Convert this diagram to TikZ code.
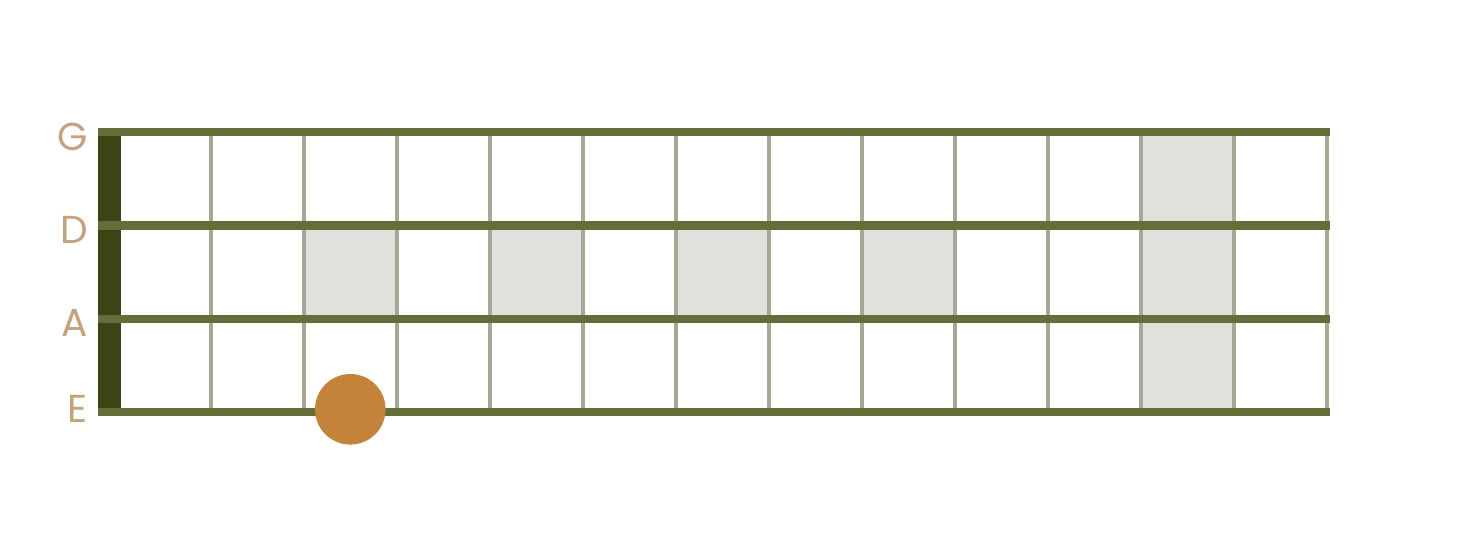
\documentclass[tikz,border=0pt]{standalone}
\usepackage{fontspec}
\setmainfont{Poppins}
\definecolor{stringc}{HTML}{636E39}
\definecolor{nutc}{HTML}{3C4315}
\definecolor{fretc}{HTML}{A6A896}
\definecolor{shadec}{HTML}{E0E1DC}
\definecolor{dotc}{HTML}{C3833A}
\definecolor{labelc}{HTML}{C4A27D}
\tikzset{
  shadecell/.style={fill=shadec, draw=none},
  fretline/.style={draw=fretc, line width=4.6pt},
  stringline/.style={draw=stringc, line width=8.4pt},
  nutbar/.style={fill=nutc, draw=none},
  notedot/.style={circle, fill=dotc, draw=none, minimum size=70.6pt, inner sep=0pt},
  strlabel/.style={anchor=east, inner sep=0pt, text=labelc, font=\fontsize{39}{39}\selectfont}
}
\begin{document}
\begin{tikzpicture}[x=1pt,y=-1pt]
\useasboundingbox (0,0) rectangle (1469,549);
% shaded cells
\foreach \f in {3,5,7,9} {
  \fill[shadecell] ({118+93*(\f-1)},225) rectangle ({118+93*\f},319);
}
\fill[shadecell] ({118+93*11},132) rectangle ({118+93*12},412);
% frets
\foreach \f in {1,...,13} {
  \draw[fretline] ({118+93*\f},132) -- ({118+93*\f},412);
}
% nut
\fill[nutbar] (98,128) rectangle (121,416);
% strings
\foreach \y in {132,225.3,318.7,412} {
  \draw[stringline] (98,\y) -- (1330,\y);
}
% note
\node[notedot] (dot) at (350.3,409.3) {};
% labels
\node[strlabel] (lG) at (88,137) {G};
\node[strlabel] (lD) at (88,230) {D};
\node[strlabel] (lA) at (88,323) {A};
\node[strlabel] (lE) at (88,408.5) {E};
\end{tikzpicture}
\end{document}
